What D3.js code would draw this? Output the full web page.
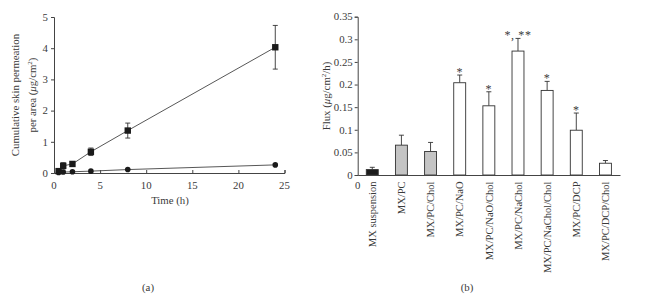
<!DOCTYPE html>
<html><head><meta charset="utf-8">
<script src="https://cdn.jsdelivr.net/npm/d3@7"></script>
<style>
body{margin:0;background:#fff;}
svg{display:block;font-family:"Liberation Serif","DejaVu Serif",serif;}
text{fill:#3a3a3a;}
</style></head>
<body><svg id="c" width="645" height="303"></svg>
<script>
// Panel (a) data
const timeH = [0.5, 1, 2, 4, 8, 24];
const squareVals = [0.06, 0.23, 0.29, 0.68, 1.36, 4.03];
const squareErr = [0.03, 0.10, 0.06, 0.12, 0.24, 0.70];
const circleVals = [0.02, 0.03, 0.04, 0.06, 0.11, 0.26];
const xTicksA = [0, 5, 10, 15, 20, 25];
const yTicksA = [0, 1, 2, 3, 4, 5];

// Panel (b) data
const categories = ["MX suspension","MX/PC","MX/PC/Chol","MX/PC/NaO","MX/PC/NaO/Chol","MX/PC/NaChol","MX/PC/NaChol/Chol","MX/PC/DCP","MX/PC/DCP/Chol"];
const fluxVals = [0.012, 0.066, 0.052, 0.204, 0.153, 0.274, 0.187, 0.099, 0.026];
const fluxErr = [0.005, 0.022, 0.020, 0.017, 0.031, 0.028, 0.020, 0.038, 0.006];
const fluxMarks = ["", "", "", "*", "*", "*, **", "*", "*", ""];
const fluxGroup = ["dark","gray","gray","white","white","white","white","white","white"];
const yTicksB = [0, 0.05, 0.1, 0.15, 0.2, 0.25, 0.3, 0.35];

const svg = d3.select("#c");
const axisColor = "#444";

// ---------- Panel (a) ----------
const xA = d3.scaleLinear().domain([0, 25]).range([54, 284.5]);
const yA = d3.scaleLinear().domain([0, 5]).range([173, 17]);
const gA = svg.append("g");

const axXA = gA.append("g").attr("transform", `translate(0,${yA(0)})`)
  .call(d3.axisTop(xA).tickValues(xTicksA).tickSize(3).tickFormat(""));
axXA.selectAll("path,line").attr("stroke", axisColor);
gA.append("g").selectAll("text").data(xTicksA).join("text")
  .attr("x", d => xA(d)).attr("y", 188.5).attr("text-anchor", "middle")
  .attr("font-size", 10.8).text(d => d);

const axYA = gA.append("g").attr("transform", `translate(${xA(0)},0)`)
  .call(d3.axisLeft(yA).tickValues(yTicksA).tickSize(3).tickFormat(""));
axYA.selectAll("path,line").attr("stroke", axisColor);
gA.append("g").selectAll("text").data(yTicksA).join("text")
  .attr("x", 48).attr("y", d => yA(d)).attr("dy", "0.35em").attr("text-anchor", "end")
  .attr("font-size", 10.8).text(d => d);

const line = d3.line().x(d => xA(d[0])).y(d => yA(d[1]));
const sq = timeH.map((t, i) => [t, squareVals[i], squareErr[i]]);
const ci = timeH.map((t, i) => [t, circleVals[i]]);
gA.append("path").attr("d", line(ci)).attr("fill", "none").attr("stroke", "#444").attr("stroke-width", 0.9);
gA.append("path").attr("d", line(sq)).attr("fill", "none").attr("stroke", "#444").attr("stroke-width", 0.9);
// error bars
const eb = gA.append("g").attr("stroke", "#333").attr("stroke-width", 0.9);
sq.forEach(d => {
  const x = xA(d[0]);
  eb.append("line").attr("x1", x).attr("x2", x).attr("y1", yA(d[1] + d[2])).attr("y2", yA(d[1] - d[2]));
  eb.append("line").attr("x1", x - 2.5).attr("x2", x + 2.5).attr("y1", yA(d[1] + d[2])).attr("y2", yA(d[1] + d[2]));
  eb.append("line").attr("x1", x - 2.5).attr("x2", x + 2.5).attr("y1", yA(d[1] - d[2])).attr("y2", yA(d[1] - d[2]));
});
gA.append("g").selectAll("rect").data(sq).join("rect")
  .attr("x", d => xA(d[0]) - 3.2).attr("y", d => yA(d[1]) - 3.2)
  .attr("width", 6.4).attr("height", 6.4).attr("fill", "#1a1a1a");
gA.append("g").selectAll("circle").data(ci).join("circle")
  .attr("cx", d => xA(d[0])).attr("cy", d => yA(d[1])).attr("r", 2.8).attr("fill", "#1a1a1a");

gA.append("text").attr("x", 170).attr("y", 204).attr("text-anchor", "middle")
  .attr("font-size", 10.8).text("Time (h)");
const ylA = gA.append("text").attr("transform", "translate(19,95) rotate(-90)")
  .attr("text-anchor", "middle").attr("font-size", 10.8);
ylA.append("tspan").attr("x", 0).attr("dy", 0).text("Cumulative skin permeation");
const t2 = ylA.append("tspan").attr("x", 0).attr("dy", 16.5);
t2.append("tspan").text("per area (");
t2.append("tspan").attr("font-style", "italic").text("μ");
t2.append("tspan").text("g/cm");
t2.append("tspan").attr("font-size", 7).attr("dy", -4).text("2");
t2.append("tspan").attr("dy", 4).text(")");
gA.append("text").attr("x", 148).attr("y", 291).attr("text-anchor", "middle")
  .attr("font-size", 10.8).text("(a)");

// ---------- Panel (b) ----------
const xB = d3.scaleBand().domain(categories).range([357.7, 620]).paddingInner(0.59).paddingOuter(0.295);
const yB = d3.scaleLinear().domain([0, 0.35]).range([175, 16.7]);
const gB = svg.append("g");

const fillMap = {dark: "#1c1c1c", gray: "#c4c4c4", white: "#ffffff"};
const bars = categories.map((c, i) => ({c, v: fluxVals[i], e: fluxErr[i], m: fluxMarks[i], g: fluxGroup[i]}));

const ebB = gB.append("g").attr("stroke", "#333").attr("stroke-width", 0.9);
bars.forEach(d => {
  const x = xB(d.c) + xB.bandwidth() / 2;
  ebB.append("line").attr("x1", x).attr("x2", x).attr("y1", yB(d.v)).attr("y2", yB(d.v + d.e));
  ebB.append("line").attr("x1", x - 2.5).attr("x2", x + 2.5).attr("y1", yB(d.v + d.e)).attr("y2", yB(d.v + d.e));
});
gB.append("g").selectAll("rect").data(bars).join("rect")
  .attr("x", d => xB(d.c)).attr("y", d => yB(d.v))
  .attr("width", xB.bandwidth()).attr("height", d => yB(0) - yB(d.v))
  .attr("fill", d => fillMap[d.g]).attr("stroke", "#333").attr("stroke-width", 0.9);
gB.append("g").selectAll("text").data(bars.filter(d => d.m)).join("text")
  .attr("x", d => xB(d.c) + xB.bandwidth() / 2).attr("y", d => yB(d.v + d.e) + 1)
  .attr("text-anchor", "middle").attr("font-size", 12).attr("letter-spacing", 0.6).text(d => d.m);

const axYB = gB.append("g").attr("transform", `translate(357.7,0)`)
  .call(d3.axisLeft(yB).tickValues(yTicksB).tickSize(3).tickFormat(""));
axYB.selectAll("path,line").attr("stroke", axisColor);
gB.append("g").selectAll("text").data(yTicksB).join("text")
  .attr("x", 352.7).attr("y", d => yB(d)).attr("dy", "0.35em").attr("text-anchor", "end")
  .attr("font-size", 10.8).text(d => d);

const axXB = gB.append("g").attr("transform", `translate(0,${yB(0)})`)
  .call(d3.axisBottom(xB).tickSize(0).tickFormat(""));
axXB.select("path").attr("stroke", axisColor);
gB.append("text").attr("x", 357.7).attr("y", 185).attr("dy", "0.35em").attr("text-anchor", "middle")
  .attr("font-size", 10.8).text("0");
gB.append("g").selectAll("text").data(categories).join("text")
  .attr("transform", d => `translate(${xB(d) + xB.bandwidth() / 2},181.5) rotate(-90)`)
  .attr("text-anchor", "end").attr("dy", "0.35em").attr("font-size", 10.5).text(d => d);

const ylB = gB.append("text").attr("transform", "translate(330,96) rotate(-90)")
  .attr("text-anchor", "middle").attr("font-size", 10.8);
ylB.append("tspan").text("Flux (");
ylB.append("tspan").attr("font-style", "italic").text("μ");
ylB.append("tspan").text("g/cm");
ylB.append("tspan").attr("font-size", 7).attr("dy", -4).text("2");
ylB.append("tspan").attr("dy", 4).text("/h)");
gB.append("text").attr("x", 467).attr("y", 291).attr("text-anchor", "middle")
  .attr("font-size", 10.8).text("(b)");
</script></body></html>
